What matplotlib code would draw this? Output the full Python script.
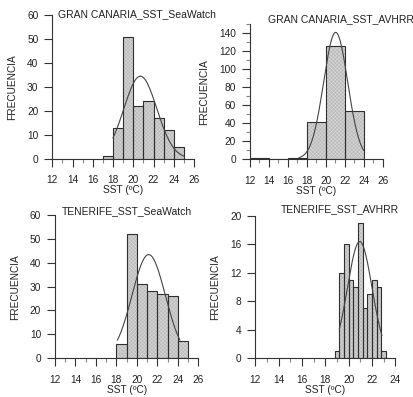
import numpy as np
import matplotlib
matplotlib.use('Agg')
import matplotlib.pyplot as plt
from matplotlib.ticker import MultipleLocator

plt.rcParams['font.family'] = ['Liberation Sans', 'DejaVu Sans']
plt.rcParams['hatch.linewidth'] = 0.35

## histogram data
gc_sw_edges = [17, 18, 19, 20, 21, 22, 23, 24, 25]
gc_sw_counts = [1, 13, 51, 22, 24, 17, 12, 5]

gc_av_edges = [12, 14, 16, 18, 20, 22, 24]
gc_av_counts = [1, 0, 1, 41, 126, 53]

tf_sw_edges = [18, 19, 20, 21, 22, 23, 24, 25]
tf_sw_counts = [6, 52, 31, 28, 27, 26, 7]

tf_av_edges = [18.8, 19.2, 19.6, 20.0, 20.4, 20.8, 21.2, 21.6, 22.0, 22.4, 22.8, 23.2]
tf_av_counts = [1, 12, 16, 11, 10, 19, 7, 9, 11, 10, 1]

gc_sw_fit = [20.7, 1.63, 34.5, 18.0, 25.0]
gc_av_fit = [21.05, 1.27, 141.0, 17.2, 24.0]
tf_sw_fit = [21.15, 1.63, 43.5, 18.1, 24.2]
tf_av_fit = [20.95, 1.05, 16.4, 19.2, 22.85]

titles = ['GRAN CANARIA_SST_SeaWatch', 'GRAN CANARIA_SST_AVHRR',
          'TENERIFE_SST_SeaWatch', 'TENERIFE_SST_AVHRR']

txt = '#222222'
fs = 7.3

fig = plt.figure(figsize=(4.14, 3.97), dpi=100)


def panel(rect, edges, counts, fit, title, title_xy, xlim, ylim, ystep, yminor):
    ax = fig.add_axes(rect)
    edges = np.array(edges)
    w = np.diff(edges)
    # fine grey stipple fill, then dark outline on top
    ax.bar(edges[:-1], counts, width=w, align='edge', color='#bcbcbc',
           edgecolor='#dadada', hatch='xxxxxxxxx', linewidth=0, zorder=2)
    ax.bar(edges[:-1], counts, width=w, align='edge', fill=False,
           edgecolor='#2e2e2e', linewidth=0.8, zorder=3)
    mu, sd, peak, x0, x1 = fit
    xs = np.linspace(x0, x1, 200)
    ax.plot(xs, peak * np.exp(-(xs - mu) ** 2 / (2 * sd ** 2)),
            color='#444444', lw=0.8, zorder=4)

    ax.set_xlim(*xlim)
    ax.set_ylim(*ylim)
    ax.xaxis.set_major_locator(MultipleLocator(2))
    ax.xaxis.set_minor_locator(MultipleLocator(1))
    ax.yaxis.set_major_locator(MultipleLocator(ystep))
    if yminor:
        ax.yaxis.set_minor_locator(MultipleLocator(yminor))
    for s in ['top', 'right']:
        ax.spines[s].set_visible(False)
    for s in ['left', 'bottom']:
        ax.spines[s].set_color('#333333')
        ax.spines[s].set_linewidth(0.8)
    ax.tick_params(which='major', direction='out', length=6, width=0.8,
                   color='#333333', labelsize=fs, labelcolor=txt)
    ax.tick_params(axis='x', which='major', pad=6)
    ax.tick_params(axis='y', which='major', pad=4)
    ax.tick_params(which='minor', direction='out', length=3, width=0.8,
                   color='#888888')
    ax.set_xlabel('SST (ºC)', fontsize=fs, color=txt, labelpad=0)
    ax.set_ylabel('FRECUENCIA', fontsize=fs, color=txt, labelpad=7)
    ax.text(title_xy[0], title_xy[1], title, transform=ax.transAxes,
            ha='left', va='baseline', fontsize=fs + 0.2, color=txt,
            clip_on=False)
    ax.set_facecolor('none')
    return ax


panel([0.1263, 0.6003, 0.3423, 0.3612], gc_sw_edges, gc_sw_counts, gc_sw_fit,
      titles[0], (0.04, 0.99), (12, 26), (0, 60), 10, None)
panel([0.6031, 0.5995, 0.3213, 0.3393], gc_av_edges, gc_av_counts, gc_av_fit,
      titles[1], (0.138, 1.019), (12, 26), (0, 150), 20, 10)
panel([0.1329, 0.0982, 0.3461, 0.3594], tf_sw_edges, tf_sw_counts, tf_sw_fit,
      titles[2], (0.047, 1.011), (12, 26), (0, 60), 10, None)
panel([0.6167, 0.0982, 0.3382, 0.3577], tf_av_edges, tf_av_counts, tf_av_fit,
      titles[3], (0.184, 1.028), (12, 24), (0, 20), 4, None)

fig.savefig('out.png', dpi=100)
